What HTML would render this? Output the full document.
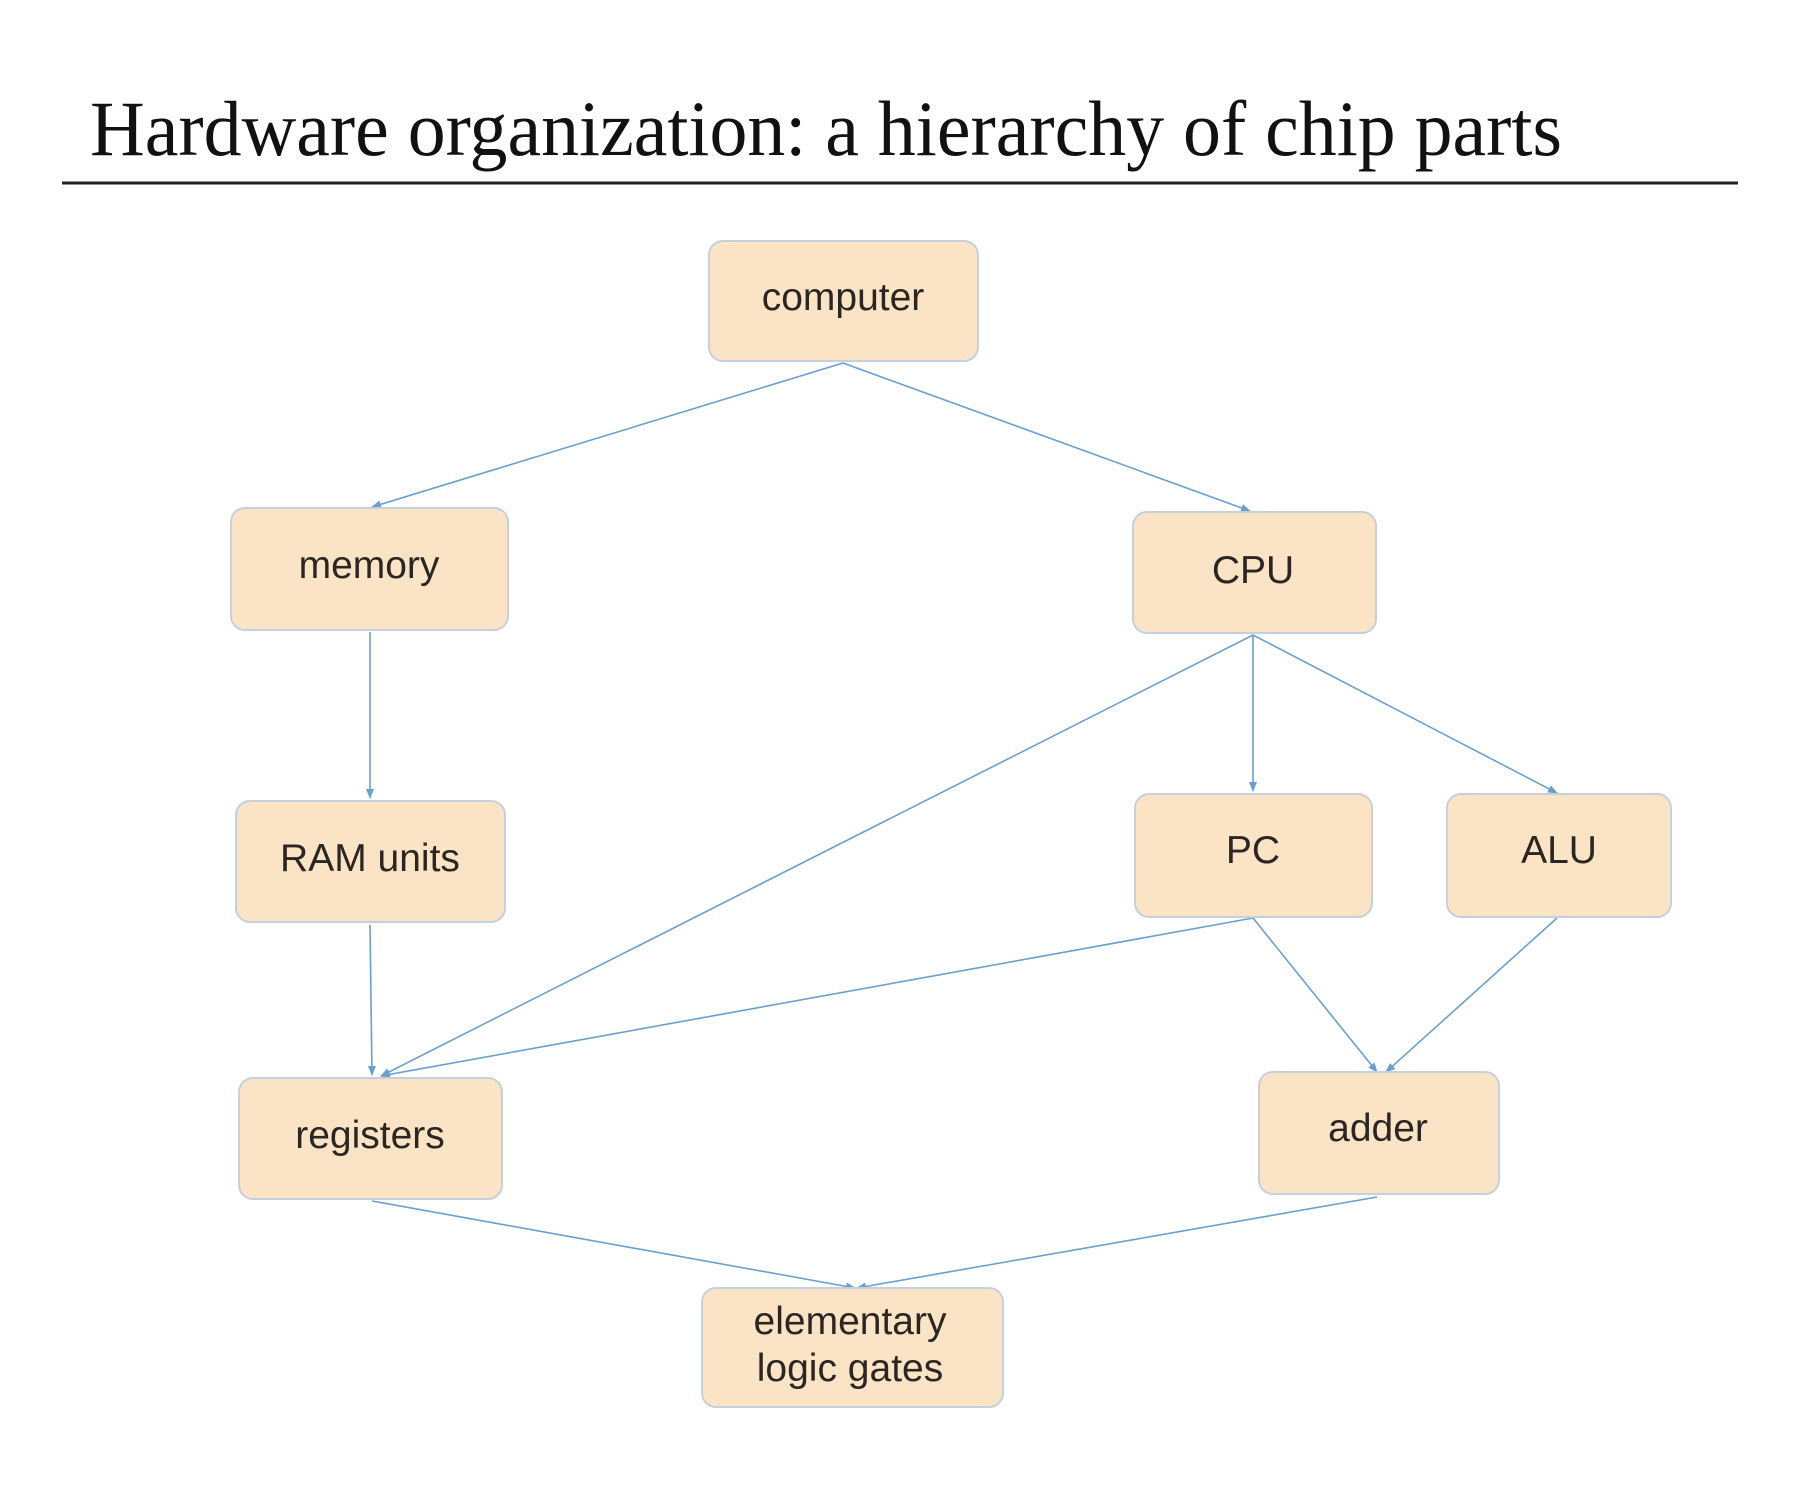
<!DOCTYPE html>
<html><head><meta charset="utf-8"><style>
html,body{margin:0;padding:0;background:#fff;}
svg{display:block;}
.n{fill:#fbe4c6;stroke:#c5d0dc;stroke-width:2;}
.t{font-family:"Liberation Sans",sans-serif;font-size:39px;fill:#2b2622;text-anchor:middle;}
.e{stroke:#6a9fd0;stroke-width:1.6;fill:none;marker-end:url(#a);}
</style></head><body>
<svg width="1808" height="1488" viewBox="0 0 1808 1488">
<defs><marker id="a" markerWidth="10" markerHeight="8" refX="9" refY="4" orient="auto" markerUnits="userSpaceOnUse"><path d="M0,0 L10,4 L0,8 z" fill="#6a9fd0"/></marker></defs>
<text x="90" y="155" font-family="Liberation Serif,serif" font-size="78" fill="#111" textLength="1472" lengthAdjust="spacingAndGlyphs">Hardware organization: a hierarchy of chip parts</text>
<line x1="62" y1="183" x2="1738" y2="183" stroke="#222" stroke-width="3"/>
<line class="e" x1="843" y1="363" x2="372" y2="507"/>
<line class="e" x1="843" y1="363" x2="1250" y2="511"/>
<line class="e" x1="370" y1="632" x2="370" y2="798"/>
<line class="e" x1="1253" y1="635" x2="381" y2="1076"/>
<line class="e" x1="1253" y1="635" x2="1253" y2="791"/>
<line class="e" x1="1253" y1="635" x2="1557" y2="793"/>
<line class="e" x1="370" y1="925" x2="372" y2="1075"/>
<line class="e" x1="1253" y1="918" x2="381" y2="1076"/>
<line class="e" x1="1253" y1="918" x2="1377" y2="1072"/>
<line class="e" x1="1557" y1="918" x2="1386" y2="1072"/>
<line class="e" x1="372" y1="1201" x2="855" y2="1288"/>
<line class="e" x1="1377" y1="1197" x2="857" y2="1288"/>
<rect class="n" x="709" y="241" width="269" height="120" rx="14"/>
<text class="t" x="843" y="310">computer</text>
<rect class="n" x="231" y="508" width="277" height="122" rx="14"/>
<text class="t" x="369" y="578">memory</text>
<rect class="n" x="1133" y="512" width="243" height="121" rx="14"/>
<text class="t" x="1253" y="583">CPU</text>
<rect class="n" x="236" y="801" width="269" height="121" rx="14"/>
<text class="t" x="370" y="871">RAM units</text>
<rect class="n" x="1135" y="794" width="237" height="123" rx="14"/>
<text class="t" x="1253" y="863">PC</text>
<rect class="n" x="1447" y="794" width="224" height="123" rx="14"/>
<text class="t" x="1559" y="863">ALU</text>
<rect class="n" x="239" y="1078" width="263" height="121" rx="14"/>
<text class="t" x="370" y="1148">registers</text>
<rect class="n" x="1259" y="1072" width="240" height="122" rx="14"/>
<text class="t" x="1378" y="1141">adder</text>
<rect class="n" x="702" y="1288" width="301" height="119" rx="14"/>
<text class="t" x="850" y="1334">elementary</text>
<text class="t" x="850" y="1381">logic gates</text>
</svg>
</body></html>
